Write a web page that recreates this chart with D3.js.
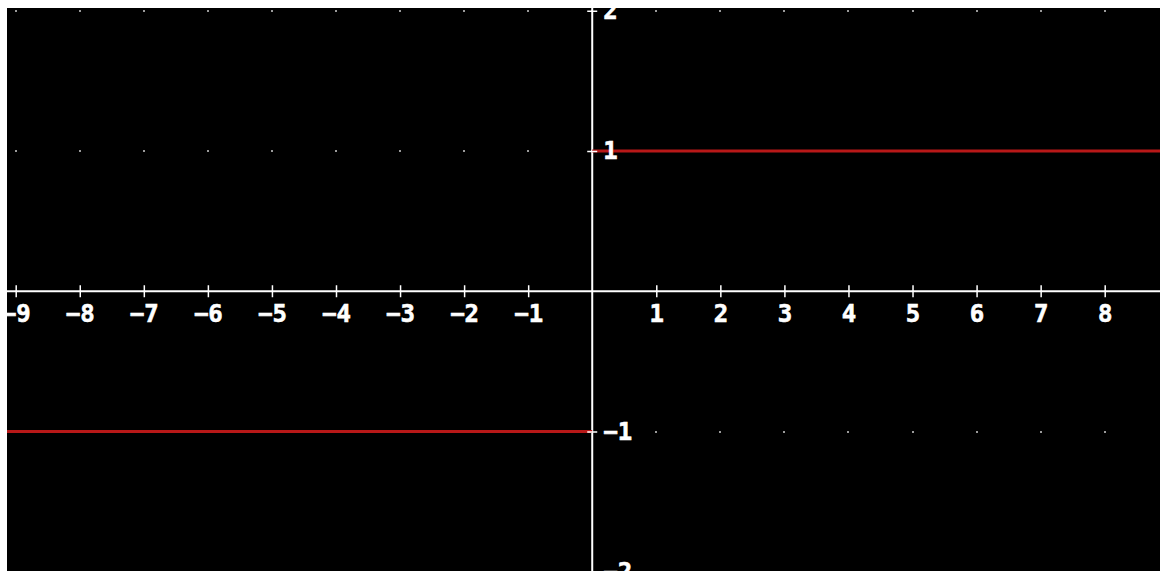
<!DOCTYPE html>
<html>
<head>
<meta charset="utf-8">
<script src="https://cdn.jsdelivr.net/npm/d3@7"></script>
<style>
  html, body { margin: 0; padding: 0; background: #fff; }
  svg { display: block; }
</style>
</head>
<body>
<svg id="chart" width="1160" height="571"></svg>
<script>
// sign(x) plotted on a black grid
var xTicks = [-9, -8, -7, -6, -5, -4, -3, -2, -1, 1, 2, 3, 4, 5, 6, 7, 8, 9];
var yTicks = [-2, -1, 1, 2];
var gridX = [-9, -8, -7, -6, -5, -4, -3, -2, -1, 0, 1, 2, 3, 4, 5, 6, 7, 8, 9];
var gridY = [-2, -1, 1, 2];
var signSegments = [
  {from: -10, to: 0, value: -1},
  {from: 0, to: 10, value: 1}
];

var svg = d3.select("#chart"),
    width = +svg.attr("width"),
    height = +svg.attr("height"),
    plot = {left: 7, top: 8};

var x = d3.scaleLinear().domain([-9, 8]).range([15.7, 1104.7]);
var y = d3.scaleLinear().domain([-1, 1]).range([431.5, 151]);

svg.append("defs").append("clipPath").attr("id", "plotClip")
  .append("rect")
  .attr("x", plot.left).attr("y", plot.top)
  .attr("width", width - plot.left).attr("height", height - plot.top);

svg.append("rect")
  .attr("x", plot.left).attr("y", plot.top)
  .attr("width", width - plot.left).attr("height", height - plot.top)
  .attr("fill", "#000");

var g = svg.append("g").attr("clip-path", "url(#plotClip)");

// dotted grid
var dots = [];
gridY.forEach(function(yv) {
  gridX.forEach(function(xv) { dots.push({x: xv, y: yv}); });
});
g.append("g").selectAll("rect")
  .data(dots)
  .enter().append("rect")
  .attr("x", function(d) { return Math.round(x(d.x)) - 1; })
  .attr("y", function(d) { return Math.round(y(d.y)) - 1; })
  .attr("width", 2)
  .attr("height", 2)
  .attr("fill", "#9a9a9a");

// axis lines
g.append("line")
  .attr("x1", plot.left).attr("x2", width)
  .attr("y1", y(0)).attr("y2", y(0))
  .attr("stroke", "#fff").attr("stroke-width", 2);
g.append("line")
  .attr("x1", x(0)).attr("x2", x(0))
  .attr("y1", plot.top).attr("y2", height)
  .attr("stroke", "#fff").attr("stroke-width", 2);

// the function itself
g.append("g").selectAll("line")
  .data(signSegments)
  .enter().append("line")
  .attr("x1", function(d) { return x(d.from); })
  .attr("x2", function(d) { return x(d.to); })
  .attr("y1", function(d) { return y(d.value); })
  .attr("y2", function(d) { return y(d.value); })
  .attr("stroke", "#b81818")
  .attr("stroke-width", 3);

var xAxis = g.append("g")
  .attr("transform", "translate(0," + y(0) + ")")
  .call(d3.axisBottom(x).tickValues(xTicks).tickFormat(d3.format("d")).tickSize(6).tickPadding(8));

var yAxis = g.append("g")
  .attr("transform", "translate(" + x(0) + ",0)")
  .call(d3.axisRight(y).tickValues(yTicks).tickFormat(d3.format("d")).tickSize(5).tickPadding(6));

[xAxis, yAxis].forEach(function(ax) {
  ax.select(".domain").remove();
  ax.selectAll("line").attr("stroke", "#fff").attr("stroke-width", 1.5);
  ax.selectAll("text")
    .attr("fill", "#fff")
    .attr("stroke", "#fff")
    .attr("stroke-width", 0.6)
    .attr("font-family", "'DejaVu Sans Mono', monospace")
    .attr("font-weight", "bold")
    .attr("font-size", 24);
});
xAxis.selectAll(".tick line").attr("y1", -6);
yAxis.selectAll(".tick line").attr("x1", -5);
</script>
</body>
</html>
